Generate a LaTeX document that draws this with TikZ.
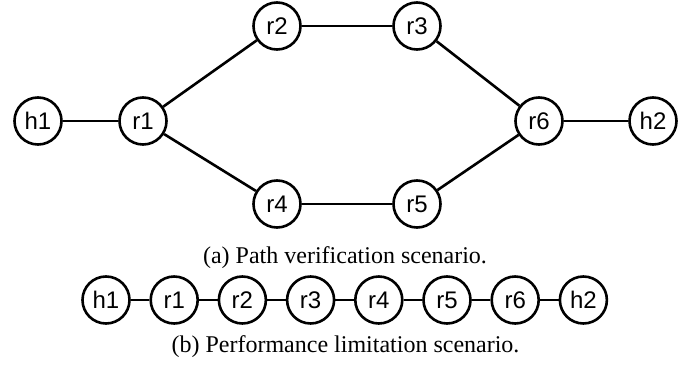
\documentclass[tikz,border=0pt]{standalone}
\usepackage{fontspec}
\setmainfont{Liberation Serif}
\newfontfamily\nodefont{Liberation Sans}
\begin{document}
\begin{tikzpicture}[x=1pt,y=-1pt,
  netnode/.style={circle,draw,line width=2.6pt,minimum size=47pt,inner sep=0pt,
    font=\nodefont\fontsize{24}{26}\selectfont},
  link/.style={line width=2.6pt},
  caption/.style={font=\fontsize{24}{28}\selectfont,inner sep=0pt}]
\useasboundingbox (0,0) rectangle (697,372);
% (a)
\node[netnode] (h1) at (38,121) {\raisebox{-2pt}{h1}};
\node[netnode] (r1) at (143,121) {\raisebox{-2pt}{r1}};
\node[netnode] (r2) at (277,26) {\raisebox{-2pt}{r2}};
\node[netnode] (r3) at (417,26) {\raisebox{-2pt}{r3}};
\node[netnode] (r4) at (277,204) {\raisebox{-2pt}{r4}};
\node[netnode] (r5) at (417,204) {\raisebox{-2pt}{r5}};
\node[netnode] (r6) at (539,121) {\raisebox{-2pt}{r6}};
\node[netnode] (h2) at (653,121) {\raisebox{-2pt}{h2}};
\draw[link] (h1) -- (r1);
\draw[link] (r1) -- (r2);
\draw[link] (r1) -- (r4);
\draw[link] (r2) -- (r3);
\draw[link] (r4) -- (r5);
\draw[link] (r3) -- (r6);
\draw[link] (r5) -- (r6);
\draw[link] (r6) -- (h2);
\node[caption] (capa) at (345,258) {(a) Path verification scenario.};
% (b)
\foreach \n [count=\i from 0] in {h1,r1,r2,r3,r4,r5,r6,h2} {
  \node[netnode] (b\n) at (106+68.2*\i,300) {\raisebox{-2pt}{\n}};
}
\foreach \a/\b in {h1/r1,r1/r2,r2/r3,r3/r4,r4/r5,r5/r6,r6/h2} {
  \draw[link] (b\a) -- (b\b);
}
\node[caption] (capb) at (345.5,347) {(b) Performance limitation scenario.};
\end{tikzpicture}
\end{document}
